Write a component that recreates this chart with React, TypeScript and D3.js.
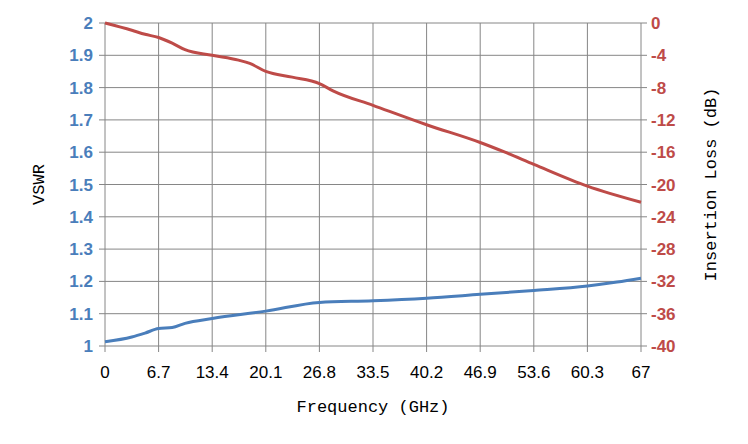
import React from "react";
import * as d3 from "d3";

const freqTicks = [0, 6.7, 13.4, 20.1, 26.8, 33.5, 40.2, 46.9, 53.6, 60.3, 67];
const vswrTicks = [1, 1.1, 1.2, 1.3, 1.4, 1.5, 1.6, 1.7, 1.8, 1.9, 2];
const lossTicks = [0, -4, -8, -12, -16, -20, -24, -28, -32, -36, -40];

const vswrFreq = [0, 3.35, 5, 6.7, 8.4, 10, 13.4, 20.1, 26.8, 33.5, 40.2, 46.9, 53.6, 60.3, 64, 67];
const vswrVals = [1.013, 1.028, 1.04, 1.054, 1.057, 1.07, 1.085, 1.108, 1.135, 1.14, 1.148, 1.16, 1.172, 1.186, 1.198, 1.21];

const lossFreq = [0, 3.35, 5, 6.7, 8.4, 10, 13.4, 16.7, 18.1, 20.1, 23.4, 26.8, 28.5, 33.5, 40.2, 46.9, 50, 53.6, 60.3, 67];
const lossVals = [0, -0.9, -1.4, -1.8, -2.5, -3.3, -4.0, -4.6, -5.0, -6.0, -6.7, -7.5, -8.4, -10.2, -12.6, -14.8, -16.0, -17.5, -20.2, -22.2];

export default function App() {
  const W = 748, H = 444;
  const L = 105, R = 641, T = 23, B = 346;
  const x = d3.scaleLinear().domain([0, 67]).range([L, R]);
  const yl = d3.scaleLinear().domain([1, 2]).range([B, T]);
  const yr = d3.scaleLinear().domain([-40, 0]).range([B, T]);
  const lineV = d3.line<number>().x((_, i) => x(vswrFreq[i])).y(d => yl(d)).curve(d3.curveMonotoneX);
  const lineL = d3.line<number>().x((_, i) => x(lossFreq[i])).y(d => yr(d)).curve(d3.curveMonotoneX);
  const tickFont = "'Liberation Sans', Arial, sans-serif";
  const labFont = "'Liberation Mono', 'DejaVu Sans Mono', monospace";
  return (
    <svg width={W} height={H} style={{ position: "absolute", left: 0, top: 0 }}>
      <rect width={W} height={H} fill="#fff" />
      {freqTicks.map(f => (
        <line key={"v" + f} x1={x(f)} x2={x(f)} y1={T} y2={B + 6} stroke="#868686" strokeWidth={1} />
      ))}
      {vswrTicks.map(v => (
        <line key={"h" + v} x1={L - 6} x2={R + 6} y1={yl(v)} y2={yl(v)} stroke="#868686" strokeWidth={1} />
      ))}
      {freqTicks.map(f => (
        <text key={"xt" + f} x={x(f)} y={B + 32} textAnchor="middle" fontFamily={tickFont} fontSize={17} fill="#000">{f}</text>
      ))}
      {vswrTicks.map(v => (
        <text key={"yl" + v} x={L - 12} y={yl(v) + 6} textAnchor="end" fontFamily={tickFont} fontWeight="bold" fontSize={17} fill="#4a7ebb">{v}</text>
      ))}
      {lossTicks.map(v => (
        <text key={"yr" + v} x={R + 10} y={yr(v) + 6} textAnchor="start" fontFamily={tickFont} fontWeight="bold" fontSize={17} fill="#be4b48">{v}</text>
      ))}
      <path d={lineV(vswrVals) || ""} fill="none" stroke="#4a7ebb" strokeWidth={3} />
      <path d={lineL(lossVals) || ""} fill="none" stroke="#be4b48" strokeWidth={3} />
      <text x={(L + R) / 2} y={412} textAnchor="middle" fontFamily={labFont} fontSize={17}>Frequency (GHz)</text>
      <text transform={`translate(44,${(T + B) / 2}) rotate(-90)`} textAnchor="middle" fontFamily={labFont} fontSize={17}>VSWR</text>
      <text transform={`translate(716,${(T + B) / 2}) rotate(-90)`} textAnchor="middle" fontFamily={labFont} fontSize={17}>Insertion Loss (dB)</text>
    </svg>
  );
}
